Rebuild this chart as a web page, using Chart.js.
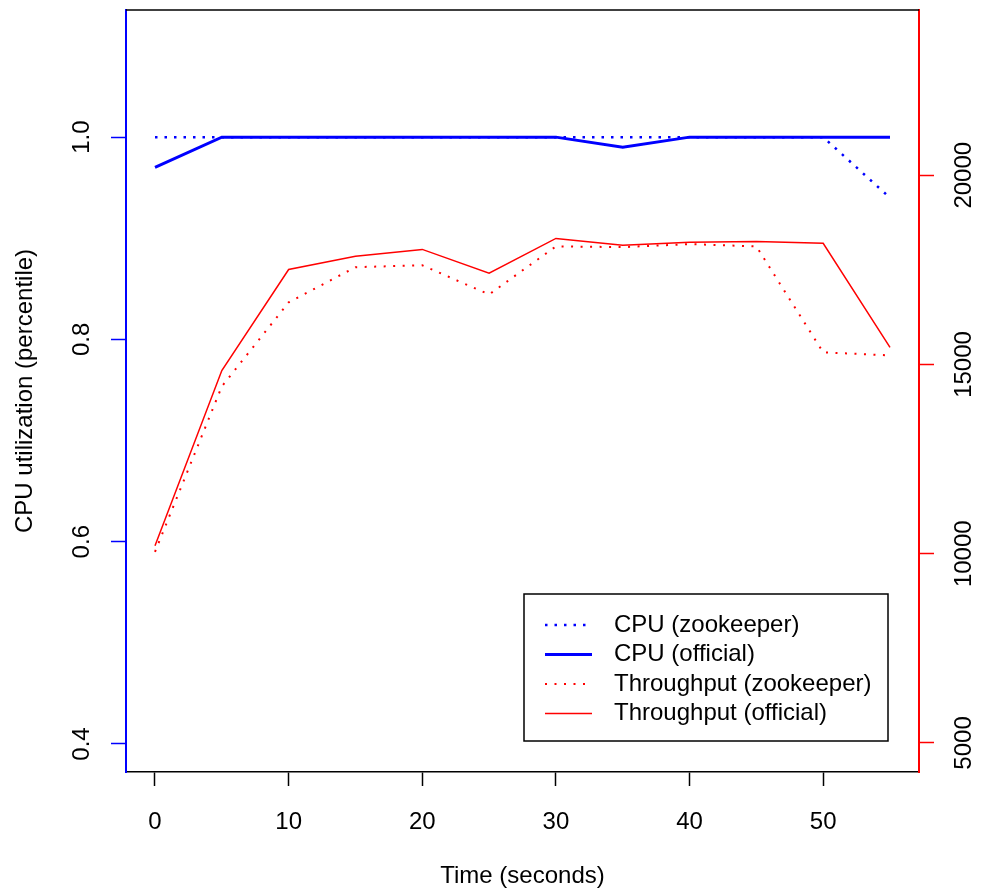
<!DOCTYPE html>
<html>
<head>
<meta charset="utf-8">
<script src="https://cdn.jsdelivr.net/npm/chart.js@4"></script>
<style>
  html, body { margin: 0; padding: 0; background: #fff; }
  #wrap { width: 982px; height: 892px; position: relative; }
</style>
</head>
<body>
<div id="wrap"><canvas id="cpu-throughput"></canvas></div>
<script>
const times = [0, 5, 10, 15, 20, 25, 30, 35, 40, 45, 50, 55];
const cpuZookeeper = [1, 1, 1, 1, 1, 1, 1, 1, 1, 1, 1, 0.94];
const cpuOfficial = [0.97, 1, 1, 1, 1, 1, 1, 0.99, 1, 1, 1, 1];
const throughputZookeeper = [10050, 14420, 16640, 17570, 17620, 16850, 18120, 18100, 18180, 18120, 15320, 15240];
const throughputOfficial = [10210, 14840, 17510, 17860, 18040, 17410, 18330, 18150, 18230, 18250, 18200, 15450];

const xTicks = [0, 10, 20, 30, 40, 50];
const cpuTicks = [0.4, 0.6, 0.8, 1.0];
const throughputTicks = [5000, 10000, 15000, 20000];

const FONT = "'Liberation Sans', Arial, sans-serif";
const BLUE = "#0000ff";
const RED = "#ff0000";

const points = (ys) => times.map((t, i) => ({ x: t, y: ys[i] }));
const setTicks = (values) => (scale) => {
  scale.ticks = values.map((v) => ({ value: v }));
};
// fixed axis sizes, no extra label padding, so the plot box lands where R put it
const fixSize = (size) => (scale) => {
  if (scale.isHorizontal()) scale.height = size;
  else scale.width = size;
  scale.paddingTop = 0;
  scale.paddingBottom = 0;
  scale.paddingLeft = 0;
  scale.paddingRight = 0;
};

// R style box: black top edge and a boxed legend inside the plot
const boxPlugin = {
  id: "box",
  afterDraw(chart) {
    const { ctx, chartArea } = chart;
    ctx.save();
    ctx.strokeStyle = "#000";
    ctx.lineWidth = 1.5;
    ctx.beginPath();
    ctx.moveTo(chartArea.left, chartArea.top);
    ctx.lineTo(chartArea.right, chartArea.top);
    ctx.stroke();

    const w = 364;
    const h = 147;
    const left = chartArea.right - 31 - w;
    const top = chartArea.bottom - 31 - h;
    ctx.strokeRect(left, top, w, h);

    ctx.font = "24px " + FONT;
    ctx.textBaseline = "middle";
    ctx.fillStyle = "#000";
    chart.data.datasets.forEach((ds, i) => {
      const y = top + 31 + i * 29.5;
      ctx.save();
      ctx.strokeStyle = ds.borderColor;
      ctx.lineWidth = ds.borderWidth;
      ctx.setLineDash(ds.borderDash || []);
      ctx.beginPath();
      ctx.moveTo(left + 21, y);
      ctx.lineTo(left + 68, y);
      ctx.stroke();
      ctx.restore();
      ctx.fillText(ds.label, left + 90, y);
    });
    ctx.restore();
  },
};

new Chart(document.getElementById("cpu-throughput"), {
  type: "line",
  plugins: [boxPlugin],
  data: {
    datasets: [
      {
        label: "CPU (zookeeper)",
        data: points(cpuZookeeper),
        yAxisID: "y",
        borderColor: BLUE,
        borderWidth: 2.5,
        borderDash: [2.5, 7],
      },
      {
        label: "CPU (official)",
        data: points(cpuOfficial),
        yAxisID: "y",
        borderColor: BLUE,
        borderWidth: 3,
      },
      {
        label: "Throughput (zookeeper)",
        data: points(throughputZookeeper),
        yAxisID: "y1",
        borderColor: RED,
        borderWidth: 2,
        borderDash: [2, 7.5],
      },
      {
        label: "Throughput (official)",
        data: points(throughputOfficial),
        yAxisID: "y1",
        borderColor: RED,
        borderWidth: 1.5,
      },
    ],
  },
  options: {
    responsive: true,
    maintainAspectRatio: false,
    animation: false,
    layout: { padding: { top: 10, left: 0, right: 0, bottom: 0 } },
    elements: {
      point: { radius: 0, hoverRadius: 0 },
      line: { tension: 0, fill: false, borderCapStyle: "butt" },
    },
    plugins: {
      legend: { display: false },
      tooltip: { enabled: false },
    },
    scales: {
      x: {
        type: "linear",
        min: -2.17,
        max: 57.17,
        afterBuildTicks: setTicks(xTicks),
        afterFit: fixSize(120),
        border: { display: true, color: "#000", width: 1.5 },
        grid: { drawOnChartArea: false, tickLength: 14, tickColor: "#000", tickWidth: 1.5 },
        ticks: {
          autoSkip: false,
          maxRotation: 0,
          color: "#000",
          padding: 22,
          font: { family: FONT, size: 24 },
          callback: (v) => String(v),
        },
        title: {
          display: true,
          text: "Time (seconds)",
          color: "#000",
          font: { family: FONT, size: 24 },
          padding: { top: 0, bottom: 1 },
        },
      },
      y: {
        type: "linear",
        position: "left",
        min: 0.3723,
        max: 1.1257,
        afterBuildTicks: setTicks(cpuTicks),
        afterFit: fixSize(126),
        border: { display: true, color: BLUE, width: 2 },
        grid: { drawOnChartArea: false, tickLength: 15, tickColor: BLUE, tickWidth: 1.5 },
        ticks: {
          autoSkip: false,
          minRotation: 90,
          maxRotation: 90,
          crossAlign: "center",
          color: "#000",
          padding: 12,
          font: { family: FONT, size: 24 },
          callback: (v) => v.toFixed(1),
        },
        title: {
          display: true,
          text: "CPU utilization (percentile)",
          color: "#000",
          font: { family: FONT, size: 24 },
          padding: { top: 11, bottom: 0 },
        },
      },
      y1: {
        type: "linear",
        position: "right",
        min: 4233,
        max: 24365,
        afterBuildTicks: setTicks(throughputTicks),
        afterFit: fixSize(63),
        border: { display: true, color: RED, width: 2 },
        grid: { drawOnChartArea: false, tickLength: 15, tickColor: RED, tickWidth: 1.5 },
        ticks: {
          autoSkip: false,
          minRotation: 90,
          maxRotation: 90,
          crossAlign: "center",
          color: "#000",
          padding: -3,
          font: { family: FONT, size: 24 },
          callback: (v) => String(v),
        },
      },
    },
  },
});
</script>
</body>
</html>
